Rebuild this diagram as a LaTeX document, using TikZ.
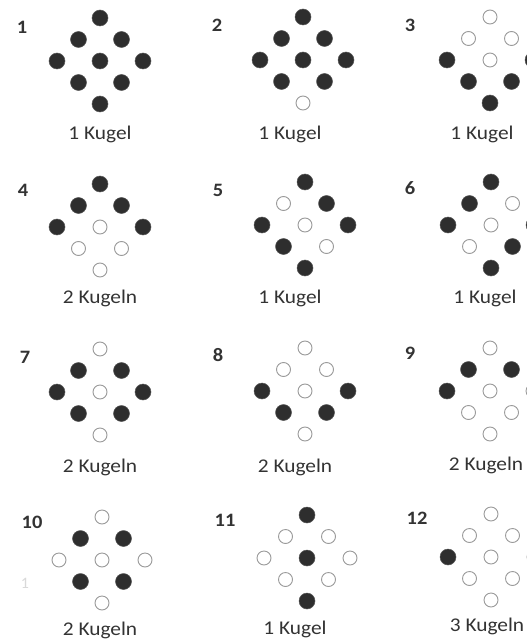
\documentclass[tikz,border=0pt]{standalone}
\usepackage{fontspec}
\setmainfont{Carlito}
\newfontfamily\capfont[FakeStretch=1.1]{Carlito}
\newfontfamily\numfont[FakeStretch=1.08]{Carlito}
\definecolor{ink}{HTML}{2E2E2E}
\definecolor{txt}{HTML}{333333}
\definecolor{ring}{HTML}{9A9A9A}
\tikzset{
  full/.style={circle, fill=ink, draw=ink!80, line width=0.5pt, minimum size=16bp, inner sep=0pt},
  open/.style={circle, draw=ring, line width=0.9pt, fill=white, minimum size=14bp, inner sep=0pt},
  numlabel/.style={font=\numfont\fontsize{19}{19}\selectfont\bfseries, text=txt, inner sep=0pt},
  caption/.style={font=\capfont\fontsize{19.5}{19.5}\selectfont, text=txt, inner sep=0pt, anchor=base},
}
% #1 panel id, #2 x, #3 y, #4 nine states (1 = filled, 0 = open) in order T,UL,UR,L,C,R,LL,LR,B
\newcommand\kugelpanel[4]{%
  \foreach \s [count=\k] in {#4} {
    \pgfmathsetmacro\ddx{{0,-1,1,-2,0,2,-1,1,0}[\k-1]}
    \pgfmathsetmacro\ddy{{-2,-1,-1,0,0,0,1,1,2}[\k-1]}
    \ifnum\s=1
      \node[full] (k#1-\k) at (#2+21.5*\ddx, #3+21.5*\ddy) {};
    \else
      \node[open] (k#1-\k) at (#2+21.5*\ddx, #3+21.5*\ddy) {};
    \fi
  }%
}
\begin{document}
\begin{tikzpicture}[x=1bp, y=-1bp]
\useasboundingbox (0,0) rectangle (527,640);
\fill[white] (0,0) rectangle (527,640);

% row 1
\node[numlabel] (n1) at (22,27) {1};
\node[numlabel] (n2) at (217,25) {2};
\node[numlabel] (n3) at (410,25) {3};
\kugelpanel{1}{100}{61}{1,1,1,1,1,1,1,1,1}
\kugelpanel{2}{303}{60}{1,1,1,1,1,1,1,1,0}
\kugelpanel{3}{490}{60}{0,0,0,1,0,1,1,1,1}
\node[caption] (c1) at (100,140) {1 Kugel};
\node[caption] (c2) at (290,140) {1 Kugel};
\node[caption] (c3) at (482,140) {1 Kugel};

% row 2
\node[numlabel] (n4) at (23,190) {4};
\node[numlabel] (n5) at (218,190) {5};
\node[numlabel] (n6) at (410,188) {6};
\kugelpanel{4}{100}{227}{1,1,1,1,0,1,0,0,0}
\kugelpanel{5}{305}{225}{1,0,1,1,0,1,1,0,1}
\kugelpanel{6}{491}{225}{1,1,0,1,0,1,0,1,1}
\node[caption] (c4) at (100,303) {2 Kugeln};
\node[caption] (c5) at (290,303) {1 Kugel};
\node[caption] (c6) at (485,303) {1 Kugel};

% row 3
\node[numlabel] (n7) at (25,357) {7};
\node[numlabel] (n8) at (218,355) {8};
\node[numlabel] (n9) at (410,353) {9};
\kugelpanel{7}{100}{392}{0,1,1,1,0,1,1,1,0}
\kugelpanel{8}{305}{391}{0,0,0,1,0,1,1,1,0}
\kugelpanel{9}{490}{391}{0,1,1,1,0,0,0,0,0}
\node[caption] (c7) at (100,472) {2 Kugeln};
\node[caption] (c8) at (295,472) {2 Kugeln};
\node[caption] (c9) at (486,470) {2 Kugeln};

% row 4
\node[numlabel] (n10) at (32,522) {10};
\node[numlabel] (n11) at (225,520) {11};
\node[numlabel] (n12) at (417,518) {12};
\kugelpanel{10}{102}{560}{0,1,1,0,0,0,1,1,0}
\kugelpanel{11}{307}{558}{1,0,0,0,1,0,0,0,1}
\kugelpanel{12}{491}{557}{0,0,0,1,0,0,0,0,0}
\node[caption] (c10) at (100,635) {2 Kugeln};
\node[caption] (c11) at (295,634) {1 Kugel};
\node[caption] (c12) at (487,631) {3 Kugeln};
\node[font=\fontsize{16}{16}\selectfont, text=gray!30, inner sep=0pt] (faint) at (25,583) {1};
\end{tikzpicture}
\end{document}
